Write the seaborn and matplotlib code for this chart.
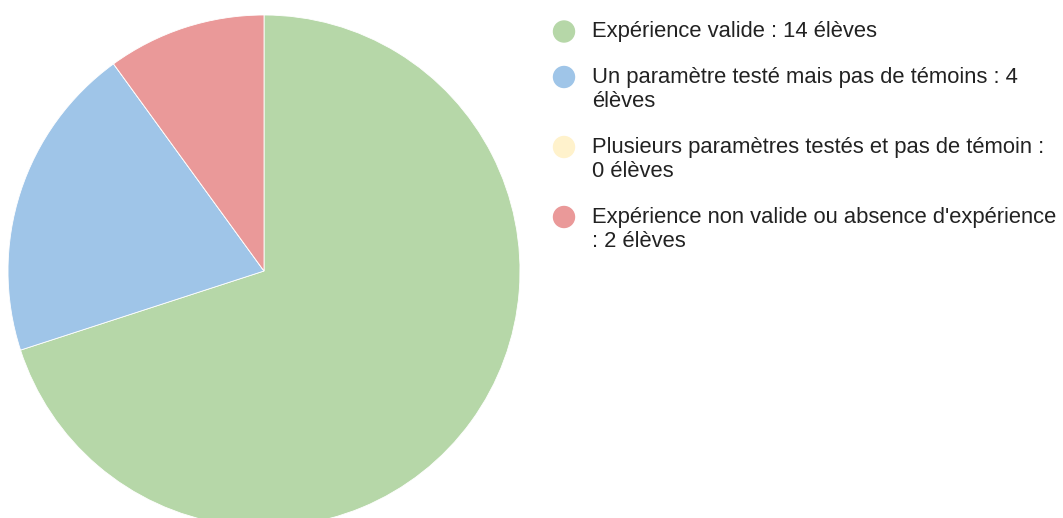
import textwrap
import matplotlib
matplotlib.use("Agg")
import matplotlib.pyplot as plt
from matplotlib.patches import Ellipse
import seaborn as sns

# Data
categories = [
    "Expérience valide",
    "Un paramètre testé mais pas de témoins",
    "Plusieurs paramètres testés et pas de témoin",
    "Expérience non valide ou absence d'expérience",
]
counts = [14, 4, 0, 2]
colors = ["#b6d7a8", "#9fc5e8", "#fff2cc", "#ea9999"]

sns.set_theme(style="white")
plt.rcParams["font.family"] = ["Liberation Sans", "DejaVu Sans"]

W, H = 1063, 518
fig = plt.figure(figsize=(W / 100, H / 100), dpi=100)

# pie: centre (264, 271) px, radius 256 px
cx, cy, r = 264, 271, 256
ax = fig.add_axes([(cx - r) / W, (H - cy - r) / H, 2 * r / W, 2 * r / H])
ax.pie(counts, colors=sns.color_palette(colors), startangle=90,
       counterclock=False, radius=1,
       wedgeprops=dict(edgecolor="white", linewidth=0.6))
ax.set_xlim(-1, 1)
ax.set_ylim(-1, 1)
ax.set_aspect("equal")
ax.axis("off")

# legend drawn by hand so wrapped lines sit like the original
labels = [f"{c} : {n} élèves" for c, n in zip(categories, counts)]
marker_x, text_x = 564, 592
base = 37          # baseline of first line, px from top
line_h = 24.5
gap = 21
for lab, col in zip(labels, colors):
    fig.patches.append(Ellipse((marker_x / W, 1 - (base - 5.5) / H), 21 / W, 21 / H,
                               transform=fig.transFigure, color=col))
    lines = textwrap.wrap(lab, width=46)
    for i, ln in enumerate(lines):
        fig.text(text_x / W, 1 - (base + i * line_h) / H, ln,
                 fontsize=15.8, color="#222222", va="baseline", ha="left")
    base += len(lines) * line_h + gap

fig.savefig("out.png", dpi=100)
